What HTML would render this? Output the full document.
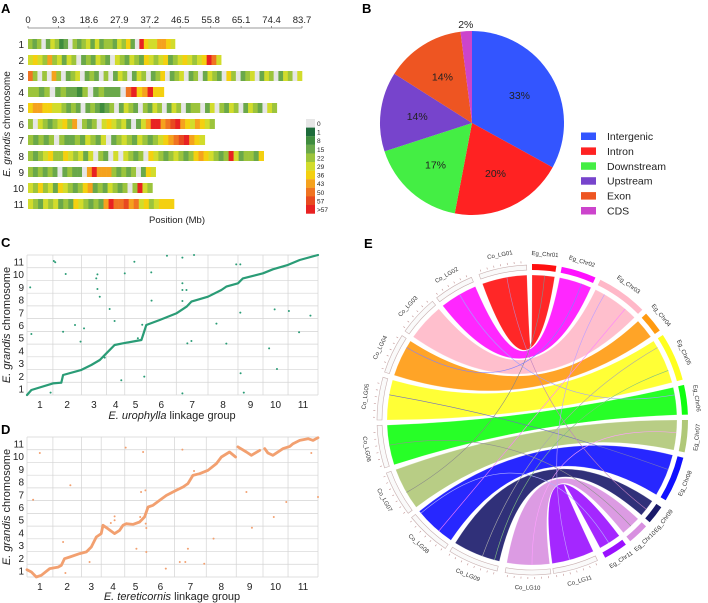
<!DOCTYPE html>
<html><head><meta charset="utf-8"><style>
html,body{margin:0;padding:0;background:#fff;}
svg{display:block;font-family:"Liberation Sans",Arial,sans-serif;}
</style></head><body>
<svg id="fig" width="708" height="603" viewBox="0 0 708 603" xmlns="http://www.w3.org/2000/svg">
<rect width="708" height="603" fill="#fff"/>
<text x="1" y="13" font-size="13" font-weight="bold">A</text>
<text x="362" y="13" font-size="13" font-weight="bold">B</text>
<text x="1" y="247" font-size="13" font-weight="bold">C</text>
<text x="1" y="434" font-size="13" font-weight="bold">D</text>
<text x="364" y="248" font-size="13" font-weight="bold">E</text>
<g id="pa"></g>
<g id="pb"></g>
<g id="pc"></g>
<g id="pd"></g>
<g id="pe"></g>
</svg>
<script>
// ---------- Panel A data ----------
const chrNames = ["1","2","3","4","5","6","7","8","9","10","11"];
const chrLens = [44.9,59,83.7,41.5,76,57,54,72,39,38,44.6];
const chrBins = [
"4340354230434535344354630A6557765",
"5654745354034354305435436545634565456A85",
"8404074034503430403540354034603450340354306403450354035405",
"4434034332403433308A67A66",
"6776655434303432340354304354035403440350435403543054",
"4054345647043405654530357AA789A7657654",
"434340433435435034543543456789A765",
"4345644654535043050543406543454346765434A534436",
"4343430343307A777434340365",
"5464536543467343543404A54",
"5435453436543437A889785645666"];
const posTicks = [0,9.3,18.6,27.9,37.2,46.5,55.8,65.1,74.4,83.7];
const legendLabels = ["0","1","8","15","22","29","36","43","50","57",">57"];
// ---------- Panel B data ----------
const pieCats = ["Intergenic","Intron","Downstream","Upstream","Exon","CDS"];
const pieVals = [33,20,17,14,14,2];
// ---------- Panel C data (x: % along linkage groups, y: % along chromosomes) ----------
const lgLabels = ["1","2","3","4","5","6","7","8","9","10","11"];
const cBounds = [0,8.9,18.7,27.3,33.6,41,51.3,62.2,72.5,81.1,89.7,100];
const cLineX = [0,1.5,8.9,11.8,12.4,18.7,22.1,25,27.3,30.1,33,39.3,39.9,41,45.6,51.3,54.8,56.5,62.2,66.8,68.5,72.5,74.2,81.1,84.5,89.7,93.7,100];
const cLineY = [0,3.6,8.3,8.8,14.3,17.9,21.4,25,29.8,35.7,36.9,39.3,42.9,50,53.6,58.3,63.1,66.7,70.2,75,77.4,79.8,83.3,86.9,89.8,92.9,96.4,100];
const cDotX = [1.1,1.5,9.2,9.7,8.1,13.3,12.4,16.5,18.4,19.6,23.8,24.2,24.2,25,26.7,28.4,30.1,32.4,33.6,36.9,38.1,39.6,40.3,42.7,42.8,48.1,53.4,53.4,53.4,53.4,53.4,54.8,55.1,56.5,57.4,65.1,68.5,71.9,73.3,73.3,73.4,74.5,83.2,85.1,85.9,90,93.5,97.4];
const cDotY = [76.9,43.6,95.7,94.8,1.7,86.4,45.2,50,38.1,47.6,83.3,86.2,75.7,70.2,26.7,61.4,52.9,10.5,86.9,95.2,40.5,50.2,13.1,87.6,67.4,99.5,98.1,79.8,75,67.1,1.2,75,36.9,38.6,100,51,36.7,93.3,93.3,58.8,15.5,1.7,33.3,61.2,18.6,60,44.8,56.7];
// ---------- Panel D data ----------
const dBounds = [0,8.9,18.7,25.5,33.6,41,50.7,61.6,71.9,81.1,89.7,100];
const dLineX = [0,1.5,3.2,4.9,7.8,10.7,11.8,12.9,14.7,18.1,20.4,22.1,23.8,25.5,26.1,27.8,30.1,31.8,33,34.1,36.4,38.7,40.4,41.6,43.3,45.6,47.9,51.3,53.6,55.3,57,59.3,62.2,65.1,66.8,69.6,71.7,null,72.5,75.4,77.1,80,null,81.7,82.8,84.5,88,90.3,91.4,93.7,96.6,98.3,100];
const dLineY = [5.2,3.6,0,1.2,6,7.1,8.3,13.1,14.3,16.7,17.9,21.4,28.6,31,36.9,34.5,31,33.3,36.9,38.1,37.6,39.3,42.9,50,51.2,54.8,58.3,61.9,64.3,66.7,72.6,73.8,76.2,81,85.7,89.3,85.7,null,92.9,89.3,86.9,90.5,null,91.7,88.6,86.9,91.7,93.3,95.2,97.6,98.8,97.6,99.5];
const dDotX = [2.1,4.4,12.4,13.2,14.9,21.5,28.8,30.1,30.1,33.9,37.6,38.9,39.2,39.9,40.7,40.8,41,41,47.7,52.5,53.4,54.4,55.3,57.4,60.9,64.1,75.4,77.3,84.8,89.1,97.7,100];
const dDotY = [55.2,88.6,25,2.9,65.5,10.7,38.6,43.3,40.5,92.4,20.2,42.9,60.7,89.3,61.9,38.1,17.9,35,6,10.7,91,10.7,20.2,75.7,9.5,27.4,60.7,35.2,42.9,53.6,88.6,57.1];
// ---------- Panel E data (angles in degrees clockwise from top) ----------
const egNames = ["Eg_Chr01","Eg_Chr02","Eg_Chr03","Eg_Chr04","Eg_Chr05","Eg_Chr06","Eg_Chr07","Eg_Chr08","Eg_Chr09","Eg_Chr10","Eg_Chr11"];
const egStart = [0,11,26,47,57,77,90,104,124,133,143];
const egEnd   = [9,24,45,55,75,88,102,121,131,141,152];
const coNames = ["Co_LG01","Co_LG02","Co_LG03","Co_LG04","Co_LG05","Co_LG06","Co_LG07","Co_LG08","Co_LG09","Co_LG10","Co_LG11"];
const coStart = [340,322,305,288,270,252,233,214,193,173,155];
const coEnd   = [358,337,320,303,286,268,250,231,212,190,172];
const linkColors = ["#ff1010","#ff10ff","#ffb8c8","#ff9a10","#ffff20","#10ff10","#b0c878","#1010ff","#1a1a6a","#d890e0","#9a10ff"];
const strayFrom = [5,20,40,60,80,95,110,128,137,148,30,70];
const strayTo   = [240,300,220,200,330,180,280,350,260,230,165,195];
const strayCol  = ["#888","#8080ff","#ff80ff","#aaa","#a0a0ff","#ffa0ff","#7070c0","#c080c0","#909090","#b0b0ff","#c0a0ff","#80c080"];

const NS='http://www.w3.org/2000/svg';
function mk(tag, attrs, parent){const e=document.createElementNS(NS,tag);for(const k in attrs)e.setAttribute(k,attrs[k]);parent.appendChild(e);return e;}

// ===== Panel A =====
(function(){
const g=document.getElementById('pa');
const heatCols=["#e6e6e6","#1d6b3a","#3f8c3d","#6aa84a","#9cc43c","#d2dc2c","#f4d010","#f5a21e","#f07422","#e84a20","#e82222"];
const x0=28,x1=302,maxV=83.7;
const xA=v=>x0+v/maxV*(x1-x0);
const ax=mk('line',{x1:x0,y1:28,x2:x1,y2:28,stroke:'#777','stroke-width':0.8},g);


posTicks.forEach(t=>{
 const tk=mk('line',{x1:xA(t),y1:26,x2:xA(t),y2:28,stroke:'#777','stroke-width':0.8},g);
 
 
 const tl=mk('text',{x:xA(t),y:23,'font-size':9.5,'text-anchor':'middle',fill:'#222'},g);
 tl.textContent=t;
 
 
});
chrBins.forEach((s,i)=>{
 const y=39+i*16, w=chrLens[i]/s.length;
 for(let j=0;j<s.length;j++){
  const c=parseInt(s[j],11);
  const r=mk('rect',{x:xA(j*w),y:y,width:xA((j+1)*w)-xA(j*w)+0.3,height:10,fill:heatCols[c]},g);
  
  
 }
 const lb=mk('text',{x:24,y:y+9,'font-size':10,'text-anchor':'end',fill:'#222'},g);
 lb.textContent=chrNames[i];
 
 
});
const yt=mk('text',{x:0,y:0,'font-size':10,'text-anchor':'middle',transform:'translate(10,124) rotate(-90)',fill:'#222'},g);
yt.innerHTML='<tspan font-style="italic">E. grandis</tspan> chromosome';


const xt=mk('text',{x:177,y:223,'font-size':9.5,'text-anchor':'middle',fill:'#222'},g);
xt.textContent='Position (Mb)';


legendLabels.forEach((l,i)=>{
 const y=119+i*8.6;
 const r=mk('rect',{x:306,y:y,width:9,height:8.7,fill:heatCols[i]},g);
 
 
 const t=mk('text',{x:317,y:y+7,'font-size':6.5,fill:'#222'},g);
 t.textContent=l;
 
 
});
})();

// ===== Panel B =====
(function(){
const g=document.getElementById('pb');
const cols=["#3355ff","#ff2222","#44ee44","#7744cc","#ee5522","#cc44cc"];
const cx=472,cy=123,r=92;
const tot=pieVals.reduce((a,b)=>a+b,0);
let a=0;
pieVals.forEach((v,i)=>{
 const a1=a, a2=a+v/tot*2*Math.PI; a=a2;
 const p=(t,rr)=>[cx+rr*Math.sin(t),cy-rr*Math.cos(t)];
 const [x1,y1]=p(a1,r),[x2,y2]=p(a2,r);
 const s=mk('path',{d:`M${cx},${cy}L${x1},${y1}A${r},${r} 0 ${a2-a1>Math.PI?1:0} 1 ${x2},${y2}Z`,fill:cols[i]},g);
 
 
 const m=(a1+a2)/2, rr= v<5 ? r+7 : r*0.6;
 const [lx,ly]=p(m,rr);
 const t=mk('text',{x:lx,y:ly+4,'font-size':10.5,'text-anchor':'middle',fill:'#222'},g);
 t.textContent=v+'%';
 
 
 const ly2=136+i*14.9;
 const sw=mk('rect',{x:581,y:ly2-3.5,width:15,height:7.5,fill:cols[i]},g);
 
 
 const lt=mk('text',{x:607,y:ly2+4,'font-size':10.5,fill:'#222'},g);
 lt.textContent=pieCats[i];
 
 
});
})();

// ===== Panels C, D =====
function dot(gid,top,bounds,lx,ly,dx,dy,col,lw,xtitleIt,xtitleRest,tickY,titleY){
 const g=document.getElementById(gid);
 const L=27,R=318,H=140;
 const sx=v=>L+v/100*(R-L), sy=v=>top+H-v/100*H;
 for(let k=0;k<=11;k++){
  const yy=top+H-k*H/11;
  const gl=mk('line',{x1:L,y1:yy,x2:R,y2:yy,stroke:'#d4d4d4','stroke-width':0.7},g);
  
  
  if(k<11){
   const t=mk('text',{x:24,y:top+H-(k+0.5)*H/11+4,'font-size':10,'text-anchor':'end',fill:'#222'},g);
   t.textContent=chrNames[k];
   
   
  }
 }
 bounds.forEach((b,k)=>{
  const gl=mk('line',{x1:sx(b),y1:top,x2:sx(b),y2:top+H,stroke:'#d4d4d4','stroke-width':0.7},g);
  
  
  if(k<11){
   const t=mk('text',{x:sx((b+bounds[k+1])/2),y:tickY,'font-size':10,'text-anchor':'middle',fill:'#222'},g);
   t.textContent=lgLabels[k];
   
   
  }
 });
 dx.forEach((v,i)=>{
  const c=mk('circle',{cx:sx(v),cy:sy(dy[i]),r:1,fill:col},g);
  
  
 });
 let d='',pen=false;
 lx.forEach((v,i)=>{
  if(v===null){pen=false;return;}
  d+=(pen?'L':'M')+sx(v).toFixed(1)+','+sy(ly[i]).toFixed(1);pen=true;
 });
 const p=mk('path',{d:d,fill:'none',stroke:col,'stroke-width':lw,'stroke-linejoin':'round','stroke-linecap':'round'},g);
 
 
 const yt=mk('text',{x:0,y:0,'font-size':11,'text-anchor':'middle',transform:`translate(10,${top+H/2}) rotate(-90)`,fill:'#222'},g);
 yt.innerHTML='<tspan font-style="italic">E. grandis</tspan> chromosome';
 
 
 const xt=mk('text',{x:172,y:titleY,'font-size':11,'text-anchor':'middle',fill:'#222'},g);
 xt.innerHTML='<tspan font-style="italic">'+xtitleIt+'</tspan> '+xtitleRest;
 
 
}
dot('pc',255,cBounds,cLineX,cLineY,cDotX,cDotY,'#2a9c76',2.2,'E. urophylla','linkage group',408,419);
dot('pd',437,dBounds,dLineX,dLineY,dDotX,dDotY,'#f2a070',2.8,'E. tereticornis','linkage group',590,600);

// ===== Panel E =====
(function(){
const g=document.getElementById('pe');
const cx=532,cy=420,Ri=145;
const P=(a,r)=>{const t=a*Math.PI/180;return [cx+r*Math.sin(t),cy-r*Math.cos(t)];};
const arc=(a1,a2,r)=>{const [x,y]=P(a2,r);return `A${r},${r} 0 0 1 ${x.toFixed(1)},${y.toFixed(1)}`;};
egStart.forEach((s,i)=>{
 const e=egEnd[i], cs=coStart[i], ce=coEnd[i];
 const [ax,ay]=P(s,Ri),[bx,by]=P(cs,Ri),[ex,ey]=P(ce,Ri);
 const d=`M${ax},${ay}${arc(s,e,Ri)}Q${cx},${cy} ${bx},${by}${arc(cs,ce,Ri)}Q${cx},${cy} ${ax},${ay}Z`;
 const r=mk('path',{d:d,fill:linkColors[i],'fill-opacity':0.9,stroke:'#fff','stroke-width':0.3,'stroke-opacity':0.6},g);
 
 
});
strayFrom.forEach((a,i)=>{
 const [x1,y1]=P(a,Ri),[x2,y2]=P(strayTo[i],Ri);
 const l=mk('path',{d:`M${x1},${y1}Q${cx},${cy} ${x2},${y2}`,fill:'none',stroke:strayCol[i],'stroke-width':0.6},g);
 
 
});
const ring=(a1,a2,r1,r2)=>{const [x1,y1]=P(a1,r2),[x2,y2]=P(a1,r1),[x3,y3]=P(a2,r1);
 return `M${x1},${y1}${arc(a1,a2,r2)}L${x3},${y3}A${r1},${r1} 0 0 0 ${x2},${y2}Z`;};
const label=(name,a1,a2,r)=>{
 const m=(a1+a2)/2;const [x,y]=P(m,r);
 const rot=(m>95&&m<265)?m-180:m;
 const t=mk('text',{x:x,y:y,'font-size':6,'text-anchor':'middle','dominant-baseline':'middle',fill:'#333',transform:`rotate(${rot} ${x} ${y})`},g);
 t.textContent=name; return t;
};
egStart.forEach((s,i)=>{
 const seg=mk('path',{d:ring(s,egEnd[i],150,156),fill:linkColors[i]},g);
 
 
 const t=label(egNames[i],s,egEnd[i],166);
 
 
});
coStart.forEach((s,i)=>{
 const seg=mk('path',{d:ring(s,coEnd[i],150,155),fill:'#fafafa',stroke:'#c8b0b0','stroke-width':0.6},g);
 
 
 for(let a=s+1;a<coEnd[i];a+=2.5){
  const [x1,y1]=P(a,157),[x2,y2]=P(a,159);
  const tk=mk('line',{x1:x1,y1:y1,x2:x2,y2:y2,stroke:'#c09090','stroke-width':0.6},g);
  
  
 }
 const t=label(coNames[i],s,coEnd[i],168);
 
 
});
})();
</script>
</body></html>
